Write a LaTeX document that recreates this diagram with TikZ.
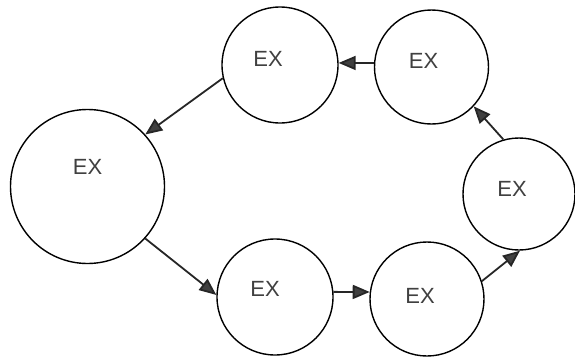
\documentclass[tikz,border=0pt]{standalone}
\usepackage{fontspec}
\setmainfont{Liberation Sans}
\usetikzlibrary{arrows.meta}

\begin{document}
\begin{tikzpicture}[x=1pt,y=-1pt,
  state/.style={circle,draw,line width=1.4pt,inner sep=0pt,minimum size=#1},
  tag/.style={label={[font=\fontsize{22}{26}\selectfont,text=black!75,#1]center:EX}},
  flow/.style={line width=1.8pt,draw=black!85,-{Triangle[length=17pt,width=14pt,fill=black!75]}}]

\useasboundingbox (0,0) rectangle (575,359);

% States
\node[state=154pt,tag={yshift=20pt}] (big) at (87.5,186.5) {};
\node[state=116pt,tag={xshift=-12pt,yshift=6pt}] (top1) at (280,65) {};
\node[state=114pt,tag={xshift=-8pt,yshift=6pt}] (top2) at (431.5,67) {};
\node[state=112pt,tag={xshift=-7pt,yshift=5pt}] (side) at (519,194) {};
\node[state=116pt,tag={xshift=-10pt,yshift=8pt}] (low1) at (275,297) {};
\node[state=114pt,tag={xshift=-7pt,yshift=3pt}] (low2) at (427,299) {};

% Transitions
\draw[flow] (top1.193) -- (big.42);
\draw[flow] (big.-42) -- (low1.178);
\draw[flow] (low1.5) -- (low2.173);
\draw[flow] (low2.18) -- (side.-89);
\draw[flow] (side.106) -- (top2.-43);
\draw[flow] (top2.176) -- (top1.2);

\end{tikzpicture}
\end{document}
